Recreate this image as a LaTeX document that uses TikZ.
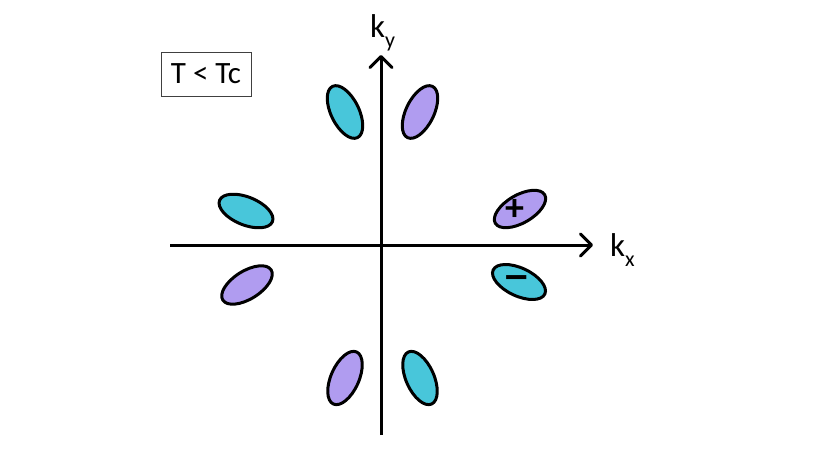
\documentclass[tikz,border=0pt]{standalone}
\usepackage{fontspec}
\setmainfont{Carlito}
\usetikzlibrary{arrows.meta}
\definecolor{cyanblob}{RGB}{72,198,218}
\definecolor{purpleblob}{RGB}{176,156,240}
\tikzset{
  axis/.style={line width=3pt,-{Straight Barb[length=11pt,width=22pt,line width=3pt,round]}},
  blob/.style={line width=3pt,draw=black},
  lbl/.style={inner sep=0pt,anchor=base west},
  sign/.style={inner sep=0pt,font=\fontsize{38}{38}\selectfont\bfseries},
}
\newcommand{\blobat}[4]{\draw[blob,fill=#4,shift={(#1,#2)},rotate=#3] (0,0) ellipse (28.5 and 14);}
\begin{document}
\begin{tikzpicture}[x=1pt,y=-1pt]
\useasboundingbox (0,0) rectangle (814,458);
% axes
\coordinate (xs) at (170,245);
\coordinate (xe) at (593,245);
\coordinate (ys) at (381,435);
\coordinate (ye) at (381,55);
\draw[axis] (xs) -- (xe);
\draw[axis] (ys) -- (ye);
\node[lbl] (kx) at (610,256) {\fontsize{33}{33}\selectfont k\raisebox{-0.33em}{\fontsize{22}{22}\selectfont x}};
\node[lbl] (ky) at (370,37) {\fontsize{33}{33}\selectfont k\raisebox{-0.33em}{\fontsize{22}{22}\selectfont y}};
% box
\node[draw=black!75,line width=1pt,minimum width=90pt,minimum height=44pt,inner sep=0pt] (tbox) at (206,74) {\fontsize{31}{31}\selectfont T < Tc};
% blobs
\blobat{345}{112}{116}{cyanblob}
\blobat{420}{112}{64}{purpleblob}
\blobat{246}{211}{-22}{cyanblob}
\blobat{247}{285}{32}{purpleblob}
\blobat{520}{209}{30}{purpleblob}
\blobat{519}{282}{-25}{cyanblob}
\blobat{345}{378}{66}{purpleblob}
\blobat{420}{378}{114}{cyanblob}
\node[sign] (plus) at (515,210) {+};
\node[sign] (minus) at (517,283) {\scalebox{1.5}[1.2]{–}};
\end{tikzpicture}
\end{document}
